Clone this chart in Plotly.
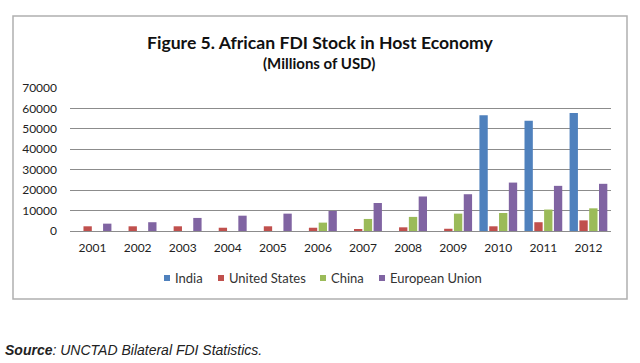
import plotly.graph_objects as go

years = ["2001", "2002", "2003", "2004", "2005", "2006", "2007", "2008", "2009", "2010", "2011", "2012"]
india = [0, 0, 0, 0, 0, 0, 0, 0, 0, 56600, 54000, 57800]
united_states = [2300, 2300, 2300, 1600, 2300, 1600, 700, 1800, 1100, 2300, 4300, 5200]
china = [0, 0, 0, 0, 0, 4100, 5900, 6900, 8500, 8800, 10500, 11100]
european_union = [3600, 4300, 6400, 7500, 8500, 9800, 13700, 16900, 18000, 23700, 22100, 23100]
y_ticks = [0, 10000, 20000, 30000, 40000, 50000, 60000, 70000]

series_names = ["India", "United States", "China", "European Union"]
series_values = [india, united_states, china, european_union]
series_colors = ["#4F81BD", "#C0504D", "#9BBB59", "#8064A2"]

# legend layout (pixel x of each square's left edge)
legend_square_x = [164, 218, 320, 379]

fig = go.Figure()
for name, vals, col in zip(series_names, series_values, series_colors):
    fig.add_trace(go.Bar(x=years, y=vals, name=name, marker=dict(color=col, line=dict(width=0)),
                         showlegend=False))

# plot area in pixels: x 70..611, y 88..231
L, R, T, B = 70, 611, 88, 231
W, H = 640, 363
def px(x):
    return (x - L) / (R - L)
def py(y):
    return (B - y) / (B - T)

FONT = "Lato, Carlito, Calibri, sans-serif"

shapes = [dict(type="rect", xref="paper", yref="paper", x0=px(13), x1=px(627), y0=py(299), y1=py(16),
               line=dict(color="#B0B0B0", width=1.5), fillcolor="rgba(0,0,0,0)", layer="below")]
annotations = [
    dict(text="<b>Figure 5. African FDI Stock in Host Economy</b>", xref="paper", yref="paper",
         x=px(320), y=py(42), xanchor="center", yanchor="middle", showarrow=False,
         font=dict(family=FONT, size=17.6, color="#111")),
    dict(text="<b>(Millions of USD)</b>", xref="paper", yref="paper",
         x=px(319), y=py(63), xanchor="center", yanchor="middle", showarrow=False,
         font=dict(family=FONT, size=15, color="#111")),
    dict(text="<b><i>Source</i></b><i>: UNCTAD Bilateral FDI Statistics.</i>", xref="paper", yref="paper",
         x=px(3), y=py(350), xanchor="left", yanchor="middle", showarrow=False,
         font=dict(family="Liberation Sans, Arial, sans-serif", size=14, color="#222")),
]
LEG_Y = 278
for name, col, sx in zip(series_names, series_colors, legend_square_x):
    shapes.append(dict(type="rect", xref="paper", yref="paper", x0=px(sx), x1=px(sx + 6),
                       y0=py(LEG_Y + 3), y1=py(LEG_Y - 3), line=dict(width=0), fillcolor=col))
    annotations.append(dict(text=name, xref="paper", yref="paper", x=px(sx + 9), y=py(LEG_Y),
                            xanchor="left", yanchor="middle", showarrow=False,
                            font=dict(family=FONT, size=13, color="#333")))

fig.update_layout(
    width=W, height=H,
    margin=dict(l=L, r=W - R, t=T, b=H - B, pad=0),
    paper_bgcolor="white", plot_bgcolor="white",
    barmode="group", bargap=0.13, bargroupgap=0.15,
    font=dict(family=FONT, size=12, color="#222"),
    showlegend=False,
    xaxis=dict(showgrid=False, showline=False, ticks="", tickfont=dict(size=12, color="#222"),
               ticklabelstandoff=8),
    yaxis=dict(range=[0, 70000], tickvals=y_ticks, tickformat="d", showgrid=True, gridcolor="#8C8C8C",
               gridwidth=1, zeroline=True, zerolinecolor="#8C8C8C", zerolinewidth=1, showline=False,
               tickfont=dict(size=12, color="#222"), ticks="", ticklabelstandoff=12),
    shapes=shapes,
    annotations=annotations,
)

fig.write_html("out.html", config={"displayModeBar": False},
               post_script="document.body.style.margin='0';")
